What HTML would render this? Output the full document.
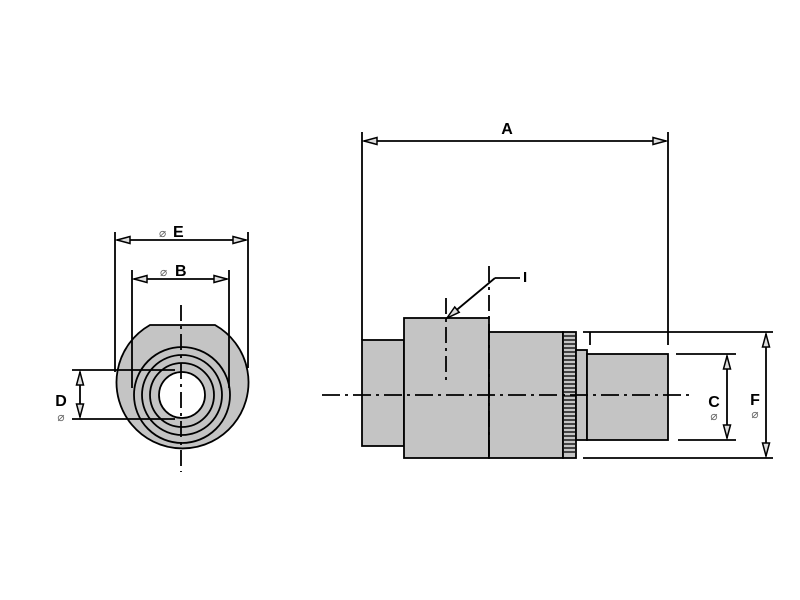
<!DOCTYPE html>
<html><head><style>body{margin:0;background:#fff}svg{display:block}</style></head><body>
<svg width="800" height="600" viewBox="0 0 800 600" xmlns="http://www.w3.org/2000/svg" font-family="Liberation Sans, sans-serif">
<defs>
<marker id="ar" markerWidth="16" markerHeight="10" refX="14" refY="5" orient="auto-start-reverse" markerUnits="userSpaceOnUse">
<path d="M1,1.5 L14,5 L1,8.5 Z" fill="#ddd" stroke="#000" stroke-width="1.5"/>
</marker>
</defs>
<g stroke="#000" stroke-width="1.8" fill="none">
<!-- left view -->
<path d="M150,325 L215,325 A66 66 0 1 1 150 325 Z" fill="#c4c4c4"/>
<circle cx="182" cy="395" r="48"/>
<circle cx="182" cy="395" r="40"/>
<circle cx="182" cy="395" r="32"/>
<circle cx="182" cy="395" r="23" fill="#fff"/>
<line x1="181" y1="305" x2="181" y2="472" stroke-dasharray="16,5,3,5"/>
<line x1="115" y1="232" x2="115" y2="372"/>
<line x1="248" y1="232" x2="248" y2="368"/>
<line x1="117" y1="240" x2="246" y2="240" marker-start="url(#ar)" marker-end="url(#ar)"/>
<line x1="132" y1="270" x2="132" y2="388"/>
<line x1="229" y1="270" x2="229" y2="388"/>
<line x1="134" y1="279" x2="227" y2="279" marker-start="url(#ar)" marker-end="url(#ar)"/>
<line x1="72" y1="370" x2="175" y2="370"/>
<line x1="72" y1="419" x2="175" y2="419"/>
<line x1="80" y1="372" x2="80" y2="417" marker-start="url(#ar)" marker-end="url(#ar)"/>
<!-- side view -->
<rect x="362" y="340" width="42" height="106" fill="#c4c4c4"/>
<rect x="404" y="318" width="85" height="140" fill="#c4c4c4"/>
<rect x="489" y="332" width="74" height="126" fill="#c4c4c4"/>
<rect x="563" y="332" width="13" height="126" fill="#c4c4c4"/>
<rect x="576" y="350" width="11" height="90" fill="#c4c4c4"/>
<rect x="587" y="354" width="81" height="86" fill="#c4c4c4"/>
<line x1="322" y1="395" x2="692" y2="395" stroke-dasharray="18,5,3,5"/>
<line x1="446" y1="298" x2="446" y2="380" stroke-dasharray="16,5,3,5"/>
<line x1="489" y1="266" x2="489" y2="458" stroke-dasharray="16,5,3,5"/>
<line x1="520" y1="278" x2="495" y2="278"/>
<line x1="495" y1="278" x2="447" y2="318" marker-end="url(#ar)"/>
<line x1="362" y1="132" x2="362" y2="340"/>
<line x1="668" y1="132" x2="668" y2="345"/>
<line x1="364" y1="141" x2="666" y2="141" marker-start="url(#ar)" marker-end="url(#ar)"/>
<line x1="583" y1="332" x2="773" y2="332"/>
<line x1="583" y1="458" x2="773" y2="458"/>
<line x1="590" y1="332" x2="590" y2="345"/>
<line x1="766" y1="334" x2="766" y2="456" marker-start="url(#ar)" marker-end="url(#ar)"/>
<line x1="676" y1="354" x2="736" y2="354"/>
<line x1="678" y1="440" x2="736" y2="440"/>
<line x1="727" y1="356" x2="727" y2="438" marker-start="url(#ar)" marker-end="url(#ar)"/>
</g>
<g stroke="#000" stroke-width="1.3">
<line x1="564" y1="336" x2="575" y2="336"/><line x1="564" y1="340" x2="575" y2="340"/><line x1="564" y1="344" x2="575" y2="344"/><line x1="564" y1="348" x2="575" y2="348"/><line x1="564" y1="352" x2="575" y2="352"/><line x1="564" y1="356" x2="575" y2="356"/><line x1="564" y1="360" x2="575" y2="360"/><line x1="564" y1="364" x2="575" y2="364"/><line x1="564" y1="368" x2="575" y2="368"/><line x1="564" y1="372" x2="575" y2="372"/><line x1="564" y1="376" x2="575" y2="376"/><line x1="564" y1="380" x2="575" y2="380"/><line x1="564" y1="384" x2="575" y2="384"/><line x1="564" y1="388" x2="575" y2="388"/><line x1="564" y1="392" x2="575" y2="392"/><line x1="564" y1="396" x2="575" y2="396"/><line x1="564" y1="400" x2="575" y2="400"/><line x1="564" y1="404" x2="575" y2="404"/><line x1="564" y1="408" x2="575" y2="408"/><line x1="564" y1="412" x2="575" y2="412"/><line x1="564" y1="416" x2="575" y2="416"/><line x1="564" y1="420" x2="575" y2="420"/><line x1="564" y1="424" x2="575" y2="424"/><line x1="564" y1="428" x2="575" y2="428"/><line x1="564" y1="432" x2="575" y2="432"/><line x1="564" y1="436" x2="575" y2="436"/><line x1="564" y1="440" x2="575" y2="440"/><line x1="564" y1="444" x2="575" y2="444"/><line x1="564" y1="448" x2="575" y2="448"/><line x1="564" y1="452" x2="575" y2="452"/>
</g>
<g font-weight="bold" font-size="16" fill="#000">
<text x="507" y="134" text-anchor="middle">A</text>
<text x="173" y="237">E</text>
<text x="175" y="276">B</text>
<text x="61" y="406" text-anchor="middle">D</text>
<text x="523" y="282" font-size="15">I</text>
<text x="714" y="407" text-anchor="middle">C</text>
<text x="755" y="405" text-anchor="middle">F</text>
</g>
<g font-size="12" fill="#666">
<text x="159" y="237">⌀</text>
<text x="160" y="276">⌀</text>
<text x="61" y="421" text-anchor="middle">⌀</text>
<text x="714" y="420" text-anchor="middle">⌀</text>
<text x="755" y="418" text-anchor="middle">⌀</text>
</g>
</svg>
</body></html>
